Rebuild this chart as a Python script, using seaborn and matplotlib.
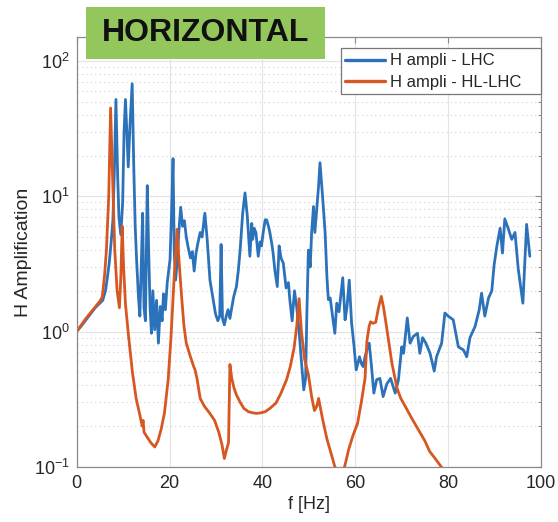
import numpy as np
import pandas as pd
import matplotlib
matplotlib.use("Agg")
import matplotlib.pyplot as plt
import seaborn as sns
from matplotlib.patches import Rectangle
from matplotlib.ticker import LogLocator, FixedLocator, NullFormatter

# ---------------- data ----------------
series_names = ["H ampli - LHC", "H ampli - HL-LHC"]

freq_lhc = [0, 1, 2, 3, 4, 5, 5.6, 6.2, 6.6, 7.0, 7.4, 7.8, 8.1, 8.45, 8.8, 9.1, 9.5, 9.9,
            10.2, 10.5, 10.8, 11.1, 11.5, 11.95, 12.3, 12.6, 12.9, 13.3, 13.6, 13.9, 14.2,
            14.5, 14.8, 15.2, 15.5, 15.8, 16.1, 16.4, 16.8, 17.2, 17.6, 18.0, 18.4, 18.7,
            19.1, 19.5, 20.1, 20.45, 20.75, 21.0, 21.3, 21.7, 22.0, 22.4, 22.8, 23.2, 23.6,
            24.0, 24.5, 24.9, 25.3, 25.7, 26.1, 26.6, 27.0, 27.6, 28.1, 28.7, 29.4, 29.9,
            30.4, 30.8, 31.1, 31.4, 31.8, 32.2, 32.6, 33.0, 33.4, 33.8, 34.4, 34.8, 35.2,
            35.75, 36.25, 36.75, 37.3, 37.7, 37.9, 38.2, 38.6, 39.1, 39.5, 39.8, 40.2, 40.6,
            40.9, 41.3, 41.6, 42.0, 42.3, 42.7, 43.2, 43.6, 44.0, 44.5, 45.1, 45.6, 45.9,
            46.4, 46.9, 47.4, 47.9, 48.4, 48.9, 49.3, 49.6, 49.9, 50.3, 50.6, 51.0, 51.3,
            51.7, 52.1, 52.4, 52.7, 53.0, 53.5, 53.9, 54.2, 54.6, 55.1, 55.6, 56.0, 56.5,
            57.3, 57.8, 58.2, 58.7, 59.2, 59.7, 60.2, 60.9, 61.3, 61.7, 62.1, 62.5, 63.0,
            63.5, 64.0, 64.6, 65.3, 66.0, 66.8, 67.6, 68.6, 69.3, 70.0, 70.4, 71.2, 71.8,
            72.5, 73.4, 73.9, 74.5, 75.2, 76.1, 77.0, 77.5, 78.6, 79.3, 80.0, 81.1, 82.2,
            83.3, 84.0, 84.7, 85.8, 86.7, 87.2, 87.9, 88.7, 89.4, 89.9, 90.5, 91.2, 91.7,
            92.2, 93.0, 93.7, 94.4, 95.1, 96.1, 96.9, 97.6]
ampl_lhc = [1.0, 1.1, 1.22, 1.35, 1.5, 1.62, 1.7, 2.0, 2.5, 3.2, 4.5, 6.7, 15, 52, 15, 7, 5.2, 9,
            30, 52, 30, 16.5, 35, 68, 16, 6, 3.4, 1.8, 1.3, 3, 7.5,
            1.5, 1.2, 12, 4, 1.5, 0.97, 2.0, 1.03, 1.7, 0.82, 1.53, 1.2, 1.9,
            1.45, 2.3, 3.4, 8, 19, 4, 2.4, 3.5, 5.5, 8.3, 6.0, 6.6, 5.0,
            4.2, 3.5, 3.9, 2.8, 3.8, 4.5, 5.4, 5.0, 7.5, 4.8, 2.4, 1.72, 1.35,
            1.2, 1.3, 4.4, 1.25, 1.12, 1.3, 1.45, 1.25, 1.5, 1.8, 2.15, 2.8, 4.0,
            7.5, 10.6, 7.1, 3.6, 6.3, 4.8, 5.8, 5.4, 3.6, 4.6, 4.3, 5.5, 6.7,
            6.7, 6.0, 5.4, 4.5, 3.8, 2.8, 2.15, 4.3, 3.5, 3.2, 2.1, 2.3, 1.72,
            1.2, 2.0, 1.5, 1.0, 0.6, 0.37, 0.45, 1.5, 4.0, 3.0, 5.4, 8.4, 5.4,
            8.0, 12, 17.7, 13, 9.5, 5.4, 2.5, 1.72, 1.77, 1.3, 0.97, 1.62, 1.4,
            2.5, 1.22, 1.5, 2.4, 1.16, 0.8, 0.52, 0.65, 0.58, 0.55, 0.65, 0.73, 0.82,
            0.55, 0.35, 0.44, 0.45, 0.33, 0.41, 0.45, 0.35, 0.44, 0.77, 0.69, 1.26, 0.82,
            0.92, 0.97, 0.69, 0.9, 0.82, 0.69, 0.51, 0.65, 0.82, 1.37, 1.3, 1.22, 0.77,
            0.73, 0.65, 0.9, 1.09, 1.45, 1.92, 1.3, 1.77, 2.0, 3.1, 4.3, 5.8, 3.8,
            6.8, 5.7, 4.8, 5.4, 2.9, 1.62, 6.2, 3.6]

freq_hl = [0, 1, 2, 3, 4, 5, 5.5, 6.0, 6.4, 6.9, 7.3, 7.7, 8.2, 8.7, 9.2, 9.5, 9.8, 10.1,
           10.5, 11.2, 12.0, 12.8, 13.5, 14.1, 14.3, 14.5, 15.2, 16.0, 16.8, 17.5, 18.2,
           18.9, 19.7, 20.3, 20.9, 21.6, 22.0, 22.6, 23.1, 23.6, 24.5, 25.2, 25.5, 25.9,
           26.6, 27.5, 28.6, 29.7, 30.6, 31.3, 31.8, 32.3, 32.7, 33.0, 33.4, 33.9, 34.4,
           35.2, 36.0, 37.0, 38.0, 38.7, 39.6, 40.6, 41.6, 42.9, 44.0, 45.2, 46.0, 46.8,
           47.4, 47.9, 48.4, 49.1, 49.9, 50.6, 51.2, 51.7, 52.1, 52.9, 53.9, 54.8, 55.6,
           56.6, 57.7, 58.6, 59.5, 60.5, 61.3, 62.1, 62.5, 63.0, 63.3, 63.8, 64.4, 65.0,
           65.6, 66.1, 66.7, 67.3, 67.9, 69.0, 69.8, 71.0, 72.1, 73.5, 75.0, 76.0, 77.2,
           78.5, 80.0, 82.0]
ampl_hl = [1.0, 1.12, 1.25, 1.38, 1.52, 1.68, 1.8, 2.6, 4.0, 10, 45, 15, 4, 2.0, 1.5, 2.5, 6.0, 3.0,
           1.6, 0.9, 0.5, 0.32, 0.25, 0.2, 0.22, 0.18, 0.165, 0.15, 0.14, 0.155, 0.19,
           0.25, 0.44, 0.9, 2.2, 5.7, 3.5, 1.8, 1.1, 0.82, 0.65, 0.55, 0.52, 0.45,
           0.32, 0.28, 0.25, 0.22, 0.18, 0.145, 0.115, 0.135, 0.15, 0.57, 0.45, 0.38, 0.34,
           0.3, 0.27, 0.255, 0.25, 0.248, 0.25, 0.255, 0.27, 0.295, 0.35, 0.44, 0.55, 0.75,
           1.1, 1.75, 1.0, 0.62, 0.48, 0.33, 0.26, 0.28, 0.32, 0.23, 0.16, 0.125, 0.1,
           0.085, 0.1, 0.135, 0.17, 0.21, 0.3, 0.45, 0.85, 1.1, 1.18, 1.15, 1.17, 1.5,
           1.82, 1.5, 1.1, 0.8, 0.58, 0.38, 0.32, 0.27, 0.23, 0.19, 0.155, 0.13, 0.115,
           0.1, 0.088, 0.078]

x_ticks = [0, 20, 40, 60, 80, 100]
y_ticks = [0.1, 1, 10, 100]
x_label = "f [Hz]"
y_label = "H Amplification"
title_text = "HORIZONTAL"

# ---------------- styling ----------------
sns.set_theme(style="white")
plt.rcParams["font.family"] = ["Liberation Sans", "DejaVu Sans"]
plt.rcParams["mathtext.fontset"] = "custom"
plt.rcParams["mathtext.rm"] = "Liberation Sans"
plt.rcParams["mathtext.it"] = "Liberation Sans:italic"
plt.rcParams["mathtext.default"] = "regular"

blue = "#2C72BB"
orange = "#D65721"

W, H = 558, 522
fig = plt.figure(figsize=(W / 100, H / 100), dpi=100)
L, R, T, B = 76.7, 541.0, 37.3, 466.7
ax = fig.add_axes([L / W, 1 - B / H, (R - L) / W, (B - T) / H])

df = pd.concat([
    pd.DataFrame({"f": freq_lhc, "a": ampl_lhc, "series": series_names[0]}),
    pd.DataFrame({"f": freq_hl, "a": ampl_hl, "series": series_names[1]}),
], ignore_index=True)

sns.lineplot(data=df, x="f", y="a", hue="series", hue_order=series_names,
             palette=[blue, orange], estimator=None, sort=False,
             linewidth=2.0, ax=ax)

ax.set_yscale("log")
ax.set_xlim(0, 100)
ax.set_ylim(0.1, 150)
ax.xaxis.set_major_locator(FixedLocator(x_ticks))
ax.yaxis.set_major_locator(FixedLocator(y_ticks))
ax.yaxis.set_minor_locator(LogLocator(base=10, subs=np.arange(2, 10)))
ax.yaxis.set_minor_formatter(NullFormatter())

ax.grid(which="major", color="#e3e3e3", linewidth=0.8, linestyle="-")
ax.grid(which="minor", axis="y", color="#cfcfcf", linewidth=0.8, linestyle=(0, (1, 3)))
ax.set_axisbelow(True)

for s in ax.spines.values():
    s.set_color("#8a8a8a")
    s.set_linewidth(0.9)
ax.tick_params(which="both", direction="in", top=True, right=True,
               color="#8a8a8a", labelcolor="#262626", labelsize=13)
ax.tick_params(which="major", length=4, width=0.8)
ax.tick_params(which="minor", length=2.5, width=0.7)
ax.tick_params(axis="x", pad=6)
ax.tick_params(axis="y", pad=5)

ax.set_xlabel(x_label, fontsize=13, color="#262626", labelpad=3)
ax.set_ylabel(y_label, fontsize=14, color="#262626", labelpad=1.5)

# legend: frame drawn as a rectangle so the padding matches the reference
lx0, lx1, ly0, ly1 = 341, 540.5, 48, 94
ax.add_patch(Rectangle((lx0 / W, 1 - ly1 / H), (lx1 - lx0) / W, (ly1 - ly0) / H,
                       transform=fig.transFigure, facecolor="white",
                       edgecolor="#777777", linewidth=0.9, zorder=4.5, clip_on=False))
leg = ax.legend(loc="upper left", bbox_to_anchor=(345 / W, 1 - 53.5 / H),
                bbox_transform=fig.transFigure, borderaxespad=0, borderpad=0,
                fontsize=12, frameon=False, handlelength=2.4, handletextpad=0.3,
                labelspacing=0.36, title=None)
leg.set_zorder(5)
for t in leg.get_texts():
    t.set_color("#262626")
for h in leg.get_lines():
    h.set_linewidth(2.4)

# green title box over the top spine
bx0, bx1, by0, by1 = 86, 325, 7, 59
fig.patches.append(Rectangle((bx0 / W, 1 - by1 / H), (bx1 - bx0) / W, (by1 - by0) / H,
                             transform=fig.transFigure, facecolor="#93C75C",
                             edgecolor="none", zorder=5))
fig.text((bx0 + bx1) / 2 / W, 1 - (by0 + by1) / 2 / H, title_text,
         ha="center", va="center", fontsize=23, fontweight="bold",
         color="#111111", zorder=6)

fig.savefig("out.png", dpi=100)
